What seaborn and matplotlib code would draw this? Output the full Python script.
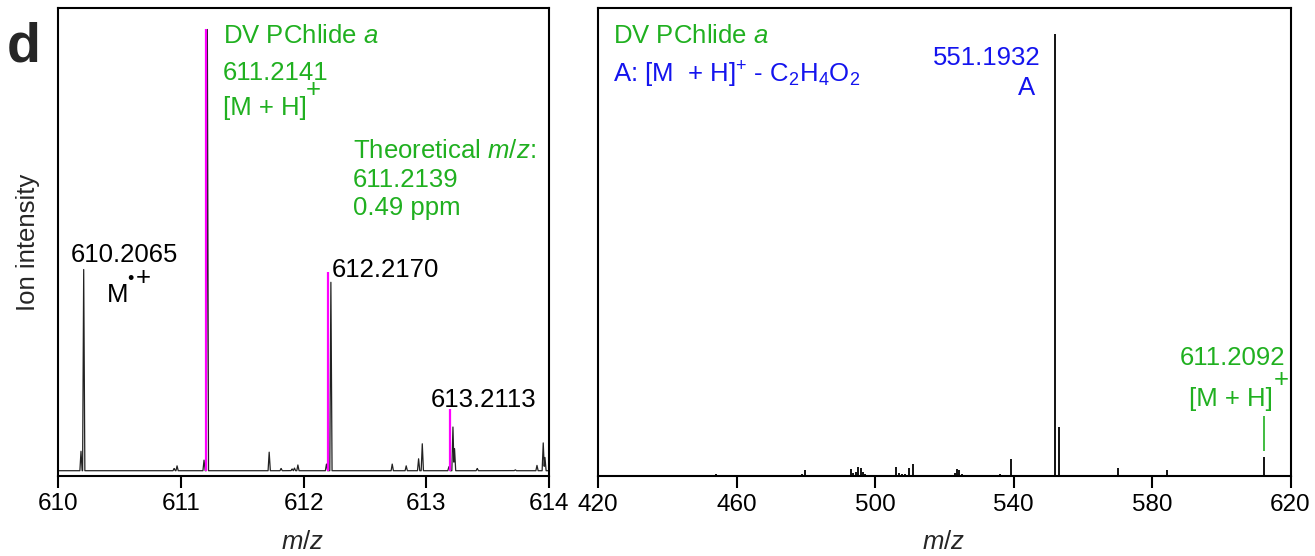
import numpy as np
import pandas as pd
import matplotlib
matplotlib.use("Agg")
import matplotlib.pyplot as plt
import seaborn as sns

# ---------------- data ----------------
# Left panel: measured profile spectrum peaks (m/z, relative intensity %)
profile_mz = [610.185, 610.207, 610.944, 610.968, 611.188, 611.215, 611.719,
              611.816, 611.906, 611.925, 611.953, 612.186, 612.222, 612.722,
              612.836, 612.937, 612.967, 613.184, 613.217, 613.230, 613.415,
              613.725, 613.902, 613.953, 613.967]
profile_int = [4.4, 45.6, 0.5, 1.1, 2.4, 100.0, 4.2,
               0.5, 0.4, 0.6, 1.3, 1.5, 42.7, 1.5,
               1.1, 2.7, 6.1, 0.9, 9.9, 5.0, 0.5,
               0.2, 1.2, 6.3, 3.0]
# Left panel: theoretical isotope pattern (magenta sticks)
theo_mz = [611.203, 612.202, 613.197]
theo_int = [100.0, 45.1, 13.9]

# Right panel: MS/MS stick spectrum
msms_mz = [454.0, 464.9, 477.8, 478.8, 479.8, 480.9, 493.1, 493.7, 494.4, 495.1,
           495.8, 496.5, 497.0, 506.1, 506.8, 507.7, 508.7, 509.9, 510.9, 523.1,
           523.6, 524.1, 525.1, 536.2, 539.1, 552.0, 553.2, 554.3, 555.5, 566.0,
           569.4, 570.2, 571.4, 580.2, 584.4, 597.4, 612.3]
msms_int = [0.6, 0.3, 0.3, 0.5, 1.4, 0.4, 1.6, 0.8, 1.0, 2.2,
            1.9, 0.9, 0.5, 2.0, 0.7, 0.5, 0.5, 1.8, 2.8, 0.8,
            1.65, 1.4, 0.5, 0.5, 3.8, 100.0, 11.1, 0.4, 0.3, 0.3,
            0.4, 1.95, 0.4, 0.3, 1.4, 0.3, 4.3]

left_ticks = [610, 611, 612, 613, 614]
right_ticks = [420, 460, 500, 540, 580, 620]

GREEN = "#20b020"
BLUE = "#1414ee"
MAGENTA = "#ff00ff"

# ---------------- style ----------------
sns.set_theme(style="ticks")
plt.rcParams["font.family"] = ["Liberation Sans", "DejaVu Sans"]
plt.rcParams["mathtext.fontset"] = "custom"
plt.rcParams["mathtext.rm"] = "Liberation Sans"
plt.rcParams["mathtext.it"] = "Liberation Sans:italic"
plt.rcParams["mathtext.bf"] = "Liberation Sans:bold"

W, H = 1315, 556
fig = plt.figure(figsize=(W / 100, H / 100), dpi=100)


def fx(px):
    return px / W


def fy(py):
    return (H - py) / H


axL = fig.add_axes([fx(58.3), fy(476), fx(549 - 58.3), (476 - 8.3) / H])
axR = fig.add_axes([fx(598.3), fy(476.3), fx(1290.5 - 598.3), (476.3 - 8.3) / H])

# ---------------- left panel: profile ----------------
grid = np.linspace(610, 614, 8001)
prof = np.zeros_like(grid)
hw = 0.009
for c, h in zip(profile_mz, profile_int):
    prof = np.maximum(prof, h * np.clip(1 - np.abs(grid - c) / hw, 0, None))
df_prof = pd.DataFrame({"mz": grid, "intensity": prof})
sns.lineplot(data=df_prof, x="mz", y="intensity", ax=axL, color="#222222",
             lw=0.9, estimator=None, sort=False, zorder=2)
axL.vlines(theo_mz, 0, theo_int, color=MAGENTA, lw=1.6, zorder=3)

axL.set_xlim(610, 614)
axL.set_ylim(-1.2, 104.8)
axL.set_xticks(left_ticks)
axL.set_xticklabels([str(t) for t in left_ticks])

# ---------------- right panel: sticks ----------------
axR.vlines(msms_mz, 0, msms_int, color="black", lw=1.3)
axR.set_xlim(420, 620)
axR.set_ylim(0, 105.8)
axR.set_xticks(right_ticks)
axR.set_xticklabels([str(t) for t in right_ticks])

for ax in (axL, axR):
    ax.set_yticks([])
    ax.set_xlabel("")
    ax.set_ylabel("")
    for s in ax.spines.values():
        s.set_linewidth(1.5)
        s.set_color("black")
    ax.tick_params(axis="x", direction="out", length=8.5, width=1.5,
                   labelsize=17.5, pad=4, colors="black")

FS = 18.5
# left annotations
axL.text(611.340, 96.9, "DV PChlide $a$", color=GREEN, fontsize=FS, va="baseline")
axL.text(611.340, 88.5, "611.2141", color=GREEN, fontsize=FS, va="baseline")
axL.text(611.340, 80.6, "[M + H]", color=GREEN, fontsize=FS, va="baseline")
axL.text(612.076, 84.6, "+", color=GREEN, fontsize=FS, va="baseline", ha="center")
axL.text(612.399, 70.8, "Theoretical $m/z$:", color=GREEN, fontsize=FS, va="baseline")
axL.text(612.399, 64.3, "611.2139", color=GREEN, fontsize=FS, va="baseline")
axL.text(612.399, 57.9, "0.49 ppm", color=GREEN, fontsize=FS, va="baseline")
axL.text(610.536, 47.3, "610.2065", color="black", fontsize=FS, va="baseline", ha="center")
axL.text(610.397, 38.3, "M", color="black", fontsize=FS, va="baseline")
axL.text(610.590, 42.4, "\u2022", color="black", fontsize=13, va="baseline", ha="center")
axL.text(610.690, 42.1, "+", color="black", fontsize=FS, va="baseline", ha="center")
axL.text(612.231, 43.8, "612.2170", color="black", fontsize=FS, va="baseline")
axL.text(613.470, 14.4, "613.2113", color="black", fontsize=FS, va="baseline", ha="center")

# right annotations
axR.text(424.3, 98.0, "DV PChlide $a$", color=GREEN, fontsize=FS, va="baseline")
axR.text(424.3, 89.1, r"A: [M  + H]$^{+}$ - C$_{2}$H$_{4}$O$_{2}$", color=BLUE,
         fontsize=FS, va="baseline")
axR.text(547.7, 93.0, "551.1932", color=BLUE, fontsize=FS, va="baseline", ha="right")
axR.text(546.3, 86.2, "A", color=BLUE, fontsize=FS, va="baseline", ha="right")
axR.text(618.6, 25.2, "611.2092", color=GREEN, fontsize=FS, va="baseline", ha="right")
axR.text(614.9, 15.9, "[M + H]", color=GREEN, fontsize=FS, va="baseline", ha="right")
axR.text(617.2, 20.2, "+", color=GREEN, fontsize=FS, va="baseline", ha="center")
axR.vlines([612.3], 5.8, 13.6, color=GREEN, lw=1.2)

# figure labels
fig.text(fx(7), fy(62), "d", fontsize=40, fontweight="bold", va="baseline", ha="left")
fig.text(fx(28), fy(242), "Ion intensity", fontsize=FS, rotation=90,
         va="center", ha="center")
fig.text(fx(303), fy(542), "$m/z$", fontsize=FS, va="center", ha="center")
fig.text(fx(944), fy(542), "$m/z$", fontsize=FS, va="center", ha="center")

fig.savefig("out.png", dpi=100)
